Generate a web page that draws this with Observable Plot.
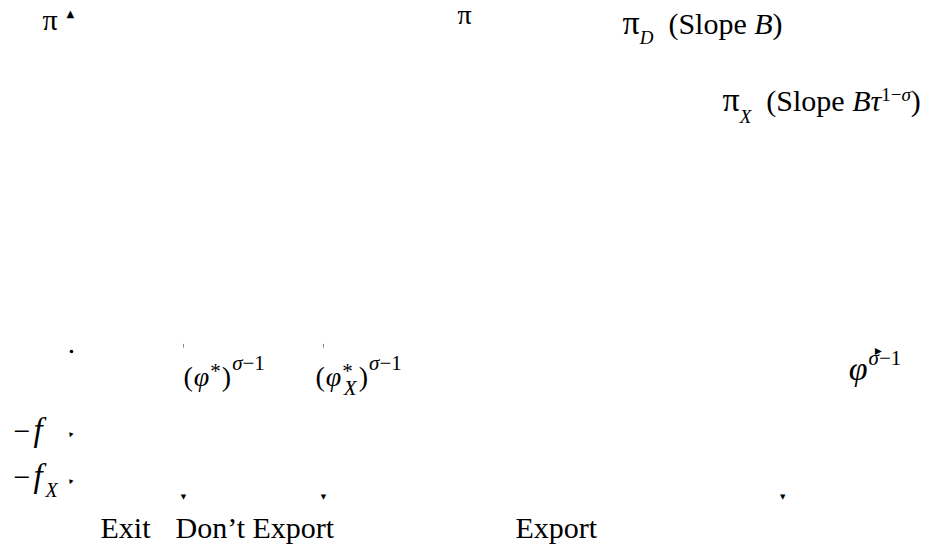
<!DOCTYPE html>
<html>
<head>
<meta charset="utf-8">
<script src="https://cdn.jsdelivr.net/npm/d3@7"></script>
<script src="https://cdn.jsdelivr.net/npm/@observablehq/plot@0.6"></script>
<style>
  html, body { margin: 0; padding: 0; background: #fff; }
  svg { display: block; }
</style>
</head>
<body>
<div id="chart"></div>
<script>
// ---- Data (x: φ^(σ−1) units, y: profit π units) ----
const cutoffValues = [1, 2.25];            // (φ*)^(σ−1), (φ_X*)^(σ−1)
const fixedCostValues = [-1, -1.56];        // −f, −f_X
const regionEnds = [1, 2.25, 6.35];         // markers under the regions
const regionMarkerLevel = -1.726;
const axisTop = [-0.01, 4.02];              // top of π axis
const axisRight = [7.21, 0];                // end of φ^(σ−1) axis

const labelKeys = ["pi", "piTop", "piD", "piX", "phiStar", "phiXStar", "phiAxis", "negF", "negFX", "exit", "dontExport", "export"];
const labelX = [-0.259, 3.446, 4.92, 5.813, 1.0, 2.179, 6.94, -0.518, -0.518, 0.259, 0.929, 3.964];
const labelY = [3.83, 3.90, 3.786, 2.869, -0.405, -0.405, -0.345, -1.06, -1.614, -2.226, -2.226, -2.226];

// ---- rich text definitions: [text, style, dxPx] ----
const richText = {
  pi: [["π", "big"]],
  piTop: [["π", "big"]],
  piD: [["π", "big"], ["D", "isub"], [" \u00A0(Slope "], ["B", "i"], [")"]],
  piX: [["π", "big"], ["X", "isub"], [" \u00A0(Slope "], ["B", "i"], ["τ", "i"], ["1−", "sup"], ["σ", "isup"], [")"]],
  phiStar: [["("], ["φ", "i", 1], ["*", "star", 1], [")", "", 1], ["σ", "isup", 1], ["−1", "sup"]],
  phiXStar: [["("], ["φ", "i", 1], ["*", "star", 1], ["X", "isub", -9], [")", "", 2], ["σ", "isup", 1], ["−1", "sup"]],
  phiAxis: [["φ", "ibig"], ["σ", "isup", 1], ["−1", "sup"]],
  negF: [["−"], ["f", "ibig", 3]],
  negFX: [["−"], ["f", "ibig", 3], ["X", "isub", 3]],
  exit: [["Exit"]],
  dontExport: [["Don’t Export"]],
  export: [["Export"]]
};
const richStyle = {
  pi: {size: 28, big: 30, small: 20, sub: 10, sup: -10, star: -8},
  piTop: {size: 26, big: 28, small: 20, sub: 10, sup: -10, star: -8},
  piD: {size: 30, big: 34, small: 19, sub: 10, sup: -10, star: -8},
  piX: {size: 30, big: 34, small: 19, sub: 12, sup: -10, star: -8},
  phiStar: {size: 28, big: 32, small: 21, sub: 9, sup: -16, star: -8},
  phiXStar: {size: 28, big: 32, small: 21, sub: 9, sup: -16, star: -8},
  phiAxis: {size: 30, big: 34, small: 21, sub: 9, sup: -15, star: -8},
  negF: {size: 30, big: 33, small: 20, sub: 10, sup: -10, star: -8},
  negFX: {size: 30, big: 33, small: 20, sub: 10, sup: -10, star: -8}
};
const defaultStyle = {size: 30, big: 34, small: 20, sub: 10, sup: -10, star: -8};

const labels = labelKeys.map((k, i) => ({key: k, x: labelX[i], y: labelY[i]}));

const chart = Plot.plot({
  width: 945,
  height: 550,
  margin: 0,
  x: {domain: [-0.634, 7.804], axis: null},
  y: {domain: [-2.369, 4.179], axis: null},
  style: {background: "white"},
  marks: [
    Plot.ruleX(cutoffValues, {y1: 0.04, y2: 0.085, stroke: "#888", strokeWidth: 1}),
    Plot.dot([{x: 0, y: 0}], {x: "x", y: "y", r: 1.8, fill: "black"}),
    Plot.text([{x: axisTop[0], y: axisTop[1]}], {x: "x", y: "y", text: () => "▲", fontSize: 10, fontFamily: "DejaVu Sans", fill: "black"}),
    Plot.text([{x: axisRight[0], y: axisRight[1]}], {x: "x", y: "y", text: () => "▲", rotate: 90, fontSize: 9, fontFamily: "DejaVu Sans", fill: "black"}),
    Plot.text(regionEnds.map(v => ({x: v, y: regionMarkerLevel})), {x: "x", y: "y", text: () => "▼", fontSize: 7, fontFamily: "DejaVu Sans", fill: "black"}),
    Plot.text(fixedCostValues.map(v => ({x: -0.01, y: v})), {x: "x", y: "y", text: () => "▲", rotate: 200, fontSize: 6, fontFamily: "DejaVu Sans", fill: "black"}),
    Plot.text(labels, {x: "x", y: "y", text: "key", textAnchor: "start", lineAnchor: "bottom", fontSize: 30, fontFamily: "Liberation Serif", fill: "black"})
  ]
});

// turn label keys into typeset text with sub/superscripts
const NS = "http://www.w3.org/2000/svg";
chart.querySelectorAll("text").forEach(t => {
  const key = t.textContent;
  const segs = richText[key];
  if (!segs) return;
  const st = richStyle[key] || defaultStyle;
  t.textContent = "";
  t.setAttribute("font-size", st.size);
  let cur = 0;
  for (const [txt, style = "", dx] of segs) {
    const span = document.createElementNS(NS, "tspan");
    let off = 0, fs = st.size;
    if (style.endsWith("sub")) { off = st.sub; fs = st.small; }
    if (style.endsWith("sup")) { off = st.sup; fs = st.small; }
    if (style === "star") { off = st.star; fs = st.small; }
    if (style.endsWith("big")) { fs = st.big; }
    if (style.startsWith("i")) span.setAttribute("font-style", "italic");
    span.setAttribute("font-size", fs);
    if (off - cur !== 0) span.setAttribute("dy", off - cur);
    if (dx) span.setAttribute("dx", dx);
    cur = off;
    span.textContent = txt;
    t.appendChild(span);
  }
});

document.getElementById("chart").appendChild(chart);
</script>
</body>
</html>
